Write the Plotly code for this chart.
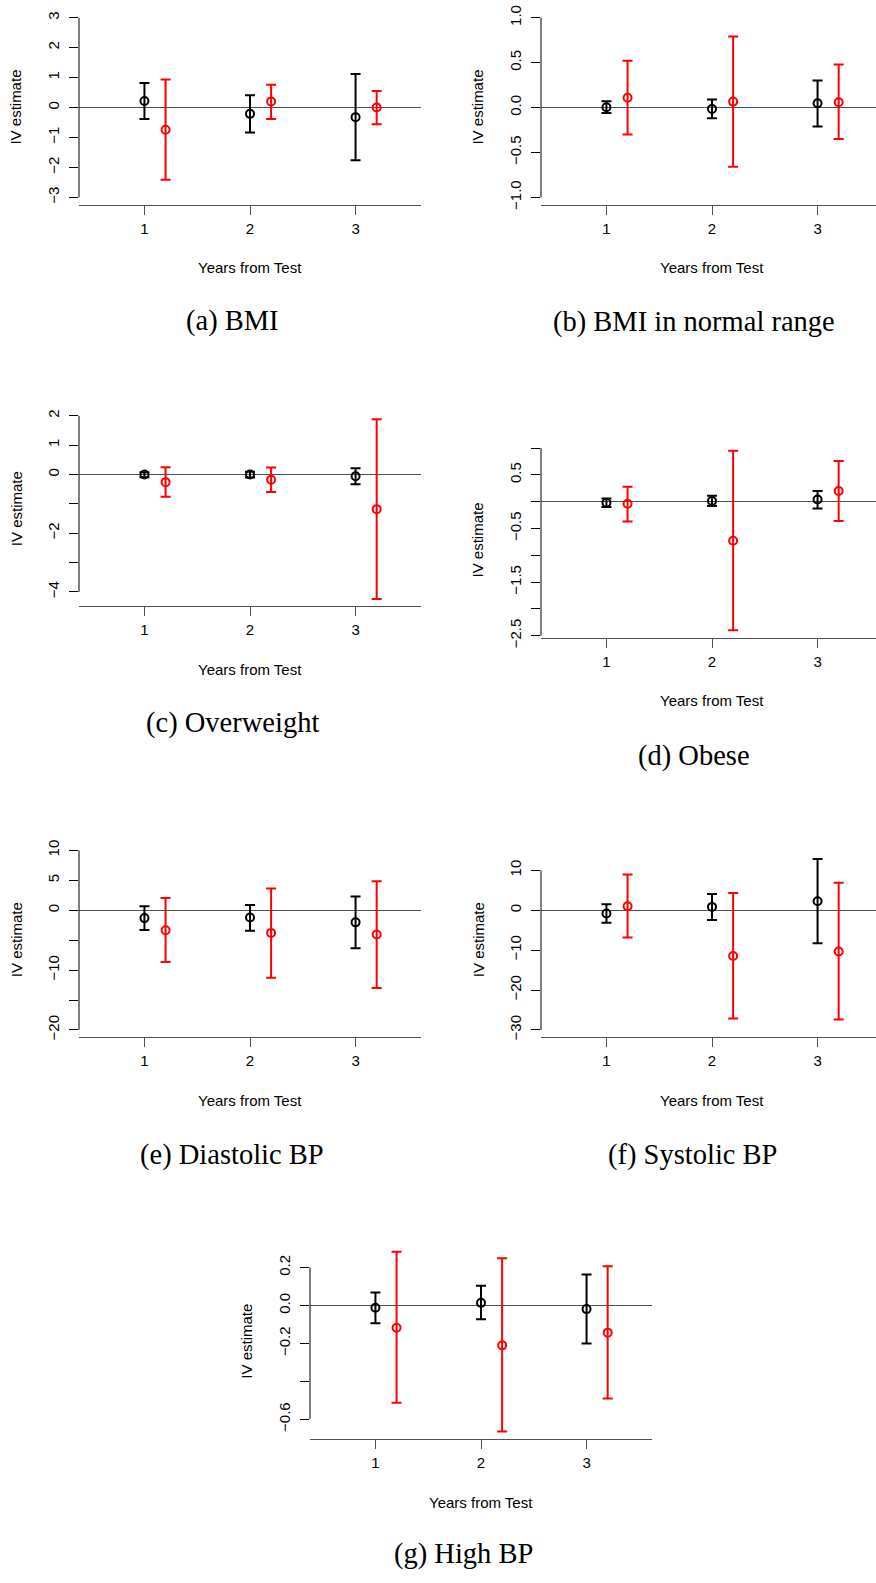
import plotly.graph_objects as go

# ---------------- data ----------------
years = [1, 2, 3]
RED_OFFSET = 0.2

captions = ["(a) BMI", "(b) BMI in normal range", "(c) Overweight", "(d) Obese",
            "(e) Diastolic BP", "(f) Systolic BP", "(g) High BP"]

# (a) BMI
a_black_est = [0.22, -0.21, -0.32]
a_black_lo = [-0.38, -0.83, -1.76]
a_black_hi = [0.82, 0.41, 1.12]
a_red_est = [-0.74, 0.20, 0.00]
a_red_lo = [-2.41, -0.38, -0.56]
a_red_hi = [0.94, 0.76, 0.55]
a_ticks = [-3, -2, -1, 0, 1, 2, 3]
a_ticklabels = ["−3", "−2", "−1", "0", "1", "2", "3"]
a_ylim = [-3, 3]

# (b) BMI in normal range
b_black_est = [0.004, -0.015, 0.048]
b_black_lo = [-0.06, -0.12, -0.21]
b_black_hi = [0.07, 0.09, 0.30]
b_red_est = [0.11, 0.066, 0.059]
b_red_lo = [-0.30, -0.66, -0.35]
b_red_hi = [0.52, 0.79, 0.48]
b_ticks = [-1.0, -0.5, 0.0, 0.5, 1.0]
b_ticklabels = ["−1.0", "−0.5", "0.0", "0.5", "1.0"]
b_ylim = [-1, 1]

# (c) Overweight
c_black_est = [0.00, 0.00, -0.06]
c_black_lo = [-0.09, -0.10, -0.33]
c_black_hi = [0.08, 0.09, 0.21]
c_red_est = [-0.26, -0.18, -1.18]
c_red_lo = [-0.76, -0.60, -4.24]
c_red_hi = [0.25, 0.24, 1.88]
c_ticks = [-4, -3, -2, -1, 0, 1, 2]
c_ticklabels = ["−4", "", "−2", "", "0", "1", "2"]
c_ylim = None

# (d) Obese
d_black_est = [-0.02, 0.01, 0.04]
d_black_lo = [-0.10, -0.08, -0.13]
d_black_hi = [0.06, 0.11, 0.20]
d_red_est = [-0.04, -0.73, 0.20]
d_red_lo = [-0.37, -2.40, -0.36]
d_red_hi = [0.28, 0.95, 0.76]
d_ticks = [-2.5, -2.0, -1.5, -1.0, -0.5, 0.0, 0.5, 1.0]
d_ticklabels = ["−2.5", "", "−1.5", "", "−0.5", "", "0.5", ""]
d_ylim = None

# (e) Diastolic BP
e_black_est = [-1.32, -1.21, -2.03]
e_black_lo = [-3.30, -3.41, -6.37]
e_black_hi = [0.66, 0.88, 2.31]
e_red_est = [-3.35, -3.79, -4.07]
e_red_lo = [-8.63, -11.26, -12.97]
e_red_hi = [2.03, 3.63, 4.84]
e_ticks = [-20, -15, -10, -5, 0, 5, 10]
e_ticklabels = ["−20", "", "−10", "", "0", "5", "10"]
e_ylim = [-20, 10]

# (f) Systolic BP
f_black_est = [-0.83, 0.83, 2.23]
f_black_lo = [-3.14, -2.48, -8.26]
f_black_hi = [1.49, 4.05, 12.81]
f_red_est = [0.99, -11.49, -10.33]
f_red_lo = [-6.86, -27.1, -27.4]
f_red_hi = [8.93, 4.30, 6.86]
f_ticks = [-30, -20, -10, 0, 10]
f_ticklabels = ["−30", "−20", "−10", "0", "10"]
f_ylim = [-30, 15]

# (g) High BP
g_black_est = [-0.012, 0.014, -0.019]
g_black_lo = [-0.094, -0.073, -0.200]
g_black_hi = [0.068, 0.104, 0.163]
g_red_est = [-0.117, -0.210, -0.143]
g_red_lo = [-0.513, -0.664, -0.490]
g_red_hi = [0.283, 0.249, 0.207]
g_ticks = [-0.6, -0.4, -0.2, 0.0, 0.2]
g_ticklabels = ["−0.6", "", "−0.2", "0.0", "0.2"]
g_ylim = None

panels = [
    (a_black_est, a_black_lo, a_black_hi, a_red_est, a_red_lo, a_red_hi, a_ticks, a_ticklabels, a_ylim),
    (b_black_est, b_black_lo, b_black_hi, b_red_est, b_red_lo, b_red_hi, b_ticks, b_ticklabels, b_ylim),
    (c_black_est, c_black_lo, c_black_hi, c_red_est, c_red_lo, c_red_hi, c_ticks, c_ticklabels, c_ylim),
    (d_black_est, d_black_lo, d_black_hi, d_red_est, d_red_lo, d_red_hi, d_ticks, d_ticklabels, d_ylim),
    (e_black_est, e_black_lo, e_black_hi, e_red_est, e_red_lo, e_red_hi, e_ticks, e_ticklabels, e_ylim),
    (f_black_est, f_black_lo, f_black_hi, f_red_est, f_red_lo, f_red_hi, f_ticks, f_ticklabels, f_ylim),
    (g_black_est, g_black_lo, g_black_hi, g_red_est, g_red_lo, g_red_hi, g_ticks, g_ticklabels, g_ylim),
]

# ---------------- layout geometry (pixels) ----------------
W, H = 876, 1583
PLOT_W, PLOT_H = 342.0, 196.0
X_RANGE = [0.38, 3.62]
# (left edge, bottom edge) of each plot region
plot_pos = [(79, 201.6), (541, 201.6), (79, 607.3), (541, 639.0),
            (79, 1042.7), (541, 1042.7), (310, 1448.3)]
caption_pos = [(232.5, 319), (693.8, 320), (232, 725), (693.8, 758.3),
               (232, 1161.5), (692.8, 1161.5), (463, 1565)]

SANS = "Liberation Sans, Arial, Helvetica, sans-serif"
SERIF = "Liberation Serif, Times New Roman, serif"
TICK_FS = 15
AXLINE = "#505050"

fig = go.Figure()
annotations = []
shapes = []


def px_x(v):
    return v / W


def px_y(v):
    return 1 - v / H


for i, (bk, bl, bh, rd, rl, rh, ticks, tlabels, ylim) in enumerate(panels):
    n = i + 1
    xa = "x" if n == 1 else f"x{n}"
    ya = "y" if n == 1 else f"y{n}"
    left, bottom = plot_pos[i]
    right = left + PLOT_W
    xr = list(X_RANGE)
    unit = PLOT_W / (X_RANGE[1] - X_RANGE[0])
    if right > W:
        xr[1] = X_RANGE[1] - (right - W) / unit
        right = W
    top = bottom - PLOT_H

    if ylim is None:
        lo = min(bl + rl)
        hi = max(bh + rh)
    else:
        lo, hi = ylim
    ext = 0.04 * (hi - lo)
    yr = [lo - ext, hi + ext]

    for est, low, high, col, off in [(bk, bl, bh, "black", 0.0), (rd, rl, rh, "#ff0000", RED_OFFSET)]:
        fig.add_trace(go.Scatter(
            x=[yv + off for yv in years], y=est, mode="markers",
            xaxis=xa, yaxis=ya, showlegend=False,
            marker=dict(symbol="circle-open", size=8, color=col, line=dict(width=2, color=col)),
            error_y=dict(type="data", symmetric=False,
                         array=[h - e for h, e in zip(high, est)],
                         arrayminus=[e - l for e, l in zip(est, low)],
                         color=col, thickness=2, width=5),
        ))

    xkey = "xaxis" if n == 1 else f"xaxis{n}"
    ykey = "yaxis" if n == 1 else f"yaxis{n}"
    fig.layout[xkey] = dict(
        domain=[px_x(left), px_x(right)], range=xr, anchor=ya,
        tickvals=years, ticktext=[str(v) for v in years],
        ticks="outside", ticklen=9, tickwidth=1, tickcolor=AXLINE,
        showline=True, linecolor=AXLINE, linewidth=1.2,
        showgrid=False, zeroline=False, ticklabelstandoff=1,
        tickfont=dict(family=SANS, size=TICK_FS, color="black"),
    )
    fig.layout[ykey] = dict(
        domain=[px_y(bottom), px_y(top)], range=yr, anchor=xa,
        tickvals=ticks, ticktext=tlabels, tickangle=-90,
        ticks="outside", ticklen=9, tickwidth=1, tickcolor="black",
        showline=False, showgrid=False,
        zeroline=True, zerolinecolor=AXLINE, zerolinewidth=1.2,
        ticklabelstandoff=4,
        tickfont=dict(family=SANS, size=TICK_FS, color="black"),
    )
    # y-axis line spanning only from the lowest to the highest tick (R style)
    shapes.append(dict(type="line", xref=f"{xa} domain", yref=ya,
                       x0=0, x1=0, y0=min(ticks), y1=max(ticks),
                       line=dict(color="black", width=1)))

    annotations.append(dict(text="IV estimate", xref="paper", yref="paper",
                            x=px_x(left - 63), y=px_y(bottom - PLOT_H / 2),
                            textangle=-90, showarrow=False,
                            xanchor="center", yanchor="middle",
                            font=dict(family=SANS, size=TICK_FS, color="black")))
    annotations.append(dict(text="Years from Test", xref="paper", yref="paper",
                            x=px_x(left + 171), y=px_y(bottom + 64),
                            showarrow=False, xanchor="center", yanchor="middle",
                            font=dict(family=SANS, size=TICK_FS, color="black")))
    cx, cy = caption_pos[i]
    annotations.append(dict(text=captions[i], xref="paper", yref="paper",
                            x=px_x(cx), y=px_y(cy), showarrow=False,
                            xanchor="center", yanchor="middle",
                            font=dict(family=SERIF, size=28.5, color="black")))

fig.update_layout(
    width=W, height=H, margin=dict(l=0, r=0, t=0, b=0),
    paper_bgcolor="white", plot_bgcolor="white",
    annotations=annotations, shapes=shapes, showlegend=False,
)

fig.write_html("out.html", config={"displayModeBar": False},
               post_script="document.body.style.margin='0px';document.body.style.overflow='hidden';")
